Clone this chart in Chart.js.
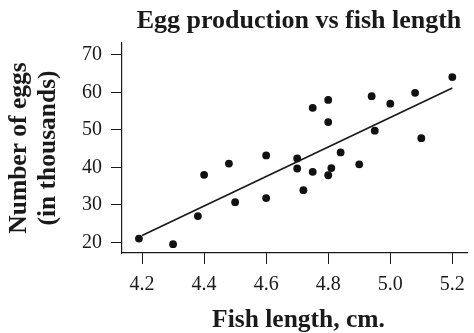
<!DOCTYPE html>
<html>
<head>
<meta charset="utf-8">
<script src="https://cdn.jsdelivr.net/npm/chart.js@4/dist/chart.umd.min.js"></script>
<style>
  html, body { margin: 0; padding: 0; background: #fff; }
  #wrap { width: 474px; height: 333px; }
</style>
</head>
<body>
<div id="wrap"><canvas id="myChart" width="474" height="333"></canvas></div>
<script>
// datos
const fishLength = [4.19, 4.30, 4.38, 4.40, 4.48, 4.50, 4.60, 4.60, 4.70, 4.70, 4.72, 4.75, 4.75,
                    4.80, 4.80, 4.80, 4.81, 4.84, 4.90, 4.94, 4.95, 5.00, 5.08, 5.10, 5.20];
const eggs = [21, 19.5, 27, 38, 41, 30.7, 43.2, 31.8, 42.4, 39.7, 33.9, 38.8, 55.9,
              58, 52.1, 37.9, 39.8, 44, 40.8, 59, 49.8, 57, 59.9, 47.8, 64.1];

// recta de ajuste (extremos)
const fitX = [4.2, 5.2];
const fitY = [21.8, 61.2];

const xTicks = [4.2, 4.4, 4.6, 4.8, 5.0, 5.2];
const xTickLabels = ['4.2', '4.4', '4.6', '4.8', '5.0', '5.2'];
const yTicks = [20, 30, 40, 50, 60, 70];

const titulo = 'Egg production vs fish length';
const tituloX = 'Fish length, cm.';
const tituloY = ['Number of eggs', '(in thousands)'];

const serif = "'Liberation Serif', 'Times New Roman', serif";
const ink = '#1a1a1a';

const puntos = fishLength.map((x, i) => ({ x: x, y: eggs[i] }));
const recta = fitX.map((x, i) => ({ x: x, y: fitY[i] }));

// titulos dibujados a mano para poder ubicarlos
const textos = {
    id: 'textos',
    afterDraw(chart) {
        const c = chart.ctx;
        c.save();
        c.fillStyle = ink;
        c.textAlign = 'center';
        c.textBaseline = 'alphabetic';
        c.font = 'bold 26px ' + serif;
        c.fillText(titulo, 299, 28);
        c.font = 'bold 25.5px ' + serif;
        c.fillText(tituloX, 298.5, 327);
        const xs = [26, 55];
        tituloY.forEach((t, i) => {
            c.save();
            c.translate(xs[i], 148);
            c.rotate(-Math.PI / 2);
            c.fillText(t, 0, 0);
            c.restore();
        });
        c.restore();
    }
};

const ctx = document.getElementById('myChart');

const myChart = new Chart(ctx, {
    type: 'scatter',
    data: {
        datasets: [
            {
                label: 'fit',
                type: 'line',
                data: recta,
                borderColor: ink,
                borderWidth: 1.7,
                pointRadius: 0,
                fill: false
            },
            {
                label: 'eggs',
                data: puntos,
                backgroundColor: '#111',
                borderColor: '#111',
                pointRadius: 3.9,
                borderWidth: 0
            }
        ]
    },
    options: {
        responsive: false,
        animation: false,
        layout: { padding: { top: 43, right: 2, left: 0, bottom: 0 } },
        plugins: {
            legend: { display: false },
            tooltip: { enabled: false },
            title: { display: false }
        },
        scales: {
            x: {
                type: 'linear',
                min: 4.1354,
                max: 5.2486,
                afterBuildTicks: axis => { axis.ticks = xTicks.map(v => ({ value: v })); },
                afterFit: scale => { scale.height = 80; },
                ticks: {
                    autoSkip: false,
                    maxRotation: 0,
                    padding: 9,
                    color: ink,
                    font: { family: serif, size: 20 },
                    callback: (v, i) => xTickLabels[i]
                },
                grid: { drawOnChartArea: false, drawTicks: true, tickLength: 11, color: ink, lineWidth: 1 },
                border: { display: true, color: ink, width: 1.2 }
            },
            y: {
                type: 'linear',
                min: 17.14,
                max: 73.2,
                afterBuildTicks: axis => { axis.ticks = yTicks.map(v => ({ value: v })); },
                afterFit: scale => { scale.width = 122; },
                ticks: {
                    autoSkip: false,
                    padding: 9,
                    color: ink,
                    font: { family: serif, size: 20 }
                },
                grid: { drawOnChartArea: false, drawTicks: true, tickLength: 11, color: ink, lineWidth: 1 },
                border: { display: true, color: ink, width: 1.2 }
            }
        }
    },
    plugins: [textos]
});
</script>
</body>
</html>
